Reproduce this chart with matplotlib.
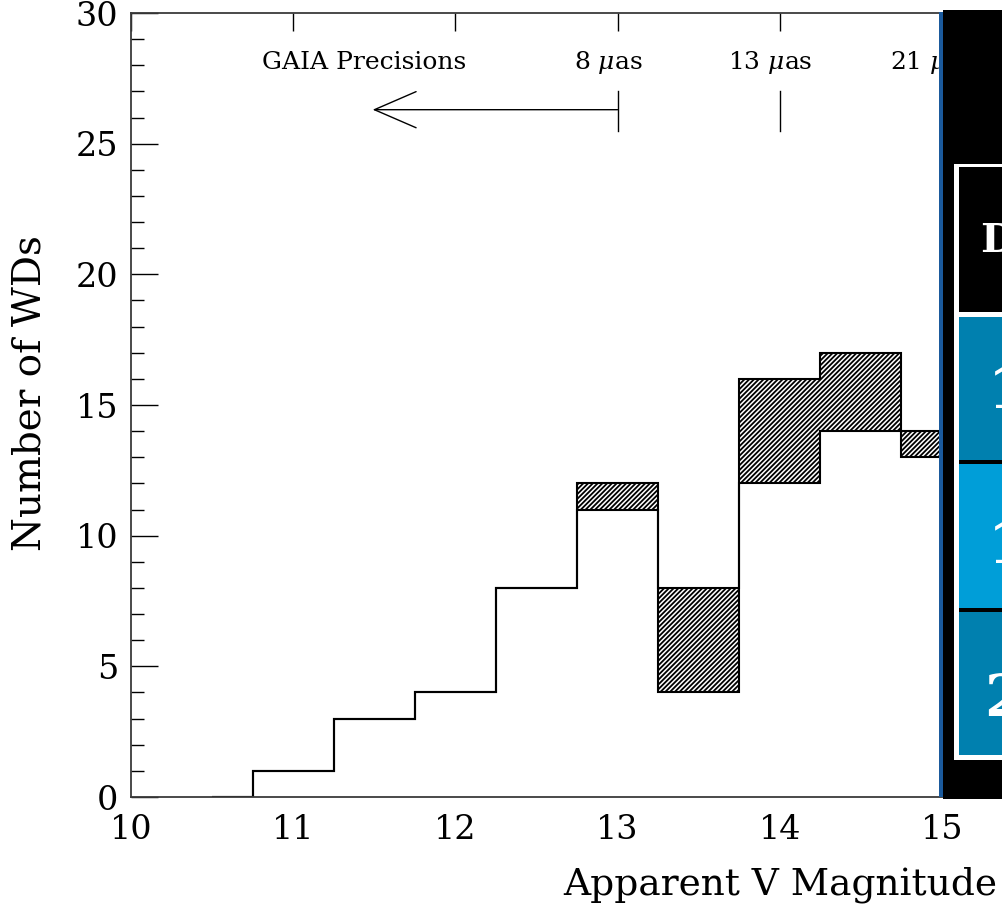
import numpy as np
import matplotlib
matplotlib.use('Agg')
import matplotlib.pyplot as plt
from matplotlib.patches import Rectangle
from matplotlib.ticker import MultipleLocator

# histogram of WDs per magnitude bin (bin centres, 0.5 mag wide)
mag_centres = [10.5, 11.0, 11.5, 12.0, 12.5, 13.0, 13.5, 14.0, 14.5, 15.0]
n_lower = [0, 1, 3, 4, 8, 11, 4, 12, 14, 13]
n_upper = [0, 1, 3, 4, 8, 12, 8, 16, 17, 14]

xtick_vals = [10, 11, 12, 13, 14, 15]

precision_labels = ['8 $\\mu$as', '13 $\\mu$as', '21 $\\mu$as']
precision_mags = [13.0, 14.0, 15.0]

table_texts = ['D', '1', '1', '2']

plt.rcParams['font.family'] = ['DejaVu Serif']
plt.rcParams['mathtext.fontset'] = 'dejavuserif'
plt.rcParams['hatch.linewidth'] = 1.3

W, H = 1002, 905
fig = plt.figure(figsize=(W / 100, H / 100), dpi=100)


def fx(px):
    return px / W


def fy(py):
    return 1 - py / H


ax = fig.add_axes([fx(131), fy(797), 8 * 162.2 / W, (797 - 13) / H])

# IDL psym=10 style edges: first bin starts at its centre
centres = np.array(mag_centres)
edges = np.concatenate([[centres[0]], centres + 0.25])

lo = np.array(n_lower, dtype=float)
hi = np.array(n_upper, dtype=float)
ax.fill_between(edges, np.append(lo, lo[-1]), np.append(hi, hi[-1]), step='post',
                facecolor='white', edgecolor='black', hatch='///////', linewidth=0)
ax.stairs(lo, edges, baseline=None, color='black', lw=1.5)
ax.stairs(hi, edges, baseline=None, color='black', lw=1.5)

ax.set_xlim(10, 18)
ax.set_ylim(0, 30)
ax.set_xticks(xtick_vals)
ax.yaxis.set_major_locator(MultipleLocator(5))
ax.yaxis.set_minor_locator(MultipleLocator(1))
ax.tick_params(axis='x', which='both', bottom=False, top=True, labelbottom=True,
               direction='in', length=13, width=1, labelsize=24, pad=12)
ax.tick_params(axis='y', which='major', left=True, right=False, direction='in',
               length=19.5, width=1, labelsize=24, pad=9)
ax.tick_params(axis='y', which='minor', left=True, right=False, direction='in',
               length=9.5, width=1)
for s in ax.spines.values():
    s.set_color('#3a3a3a')
    s.set_linewidth(1.3)

ax.set_xlabel('Apparent V Magnitude', fontsize=27, labelpad=15)
fig.text(fx(30), fy(393), 'Number of WDs', rotation=90, fontsize=28,
         ha='center', va='center')

# GAIA precision annotations
ax.text(11.44, 28.1, 'GAIA Precisions', fontsize=18, ha='center', va='center')
for lab, m in zip(precision_labels, precision_mags):
    ax.text(m - 0.06, 28.1, lab, fontsize=18, ha='center', va='center')
    ax.plot([m, m], [25.5, 27.0], color='black', lw=1)
ax.annotate('', xy=(11.49, 26.3), xytext=(13.0, 26.3),
            arrowprops=dict(arrowstyle='->,head_length=3,head_width=1.3',
                            color='black', lw=1, mutation_scale=10,
                            shrinkA=0, shrinkB=0))


# overlay panel on the right
def rect(x0, y0, x1, y1, color):
    fig.add_artist(Rectangle((fx(x0), fy(y1)), fx(x1) - fx(x0), fy(y0) - fy(y1),
                             transform=fig.transFigure, facecolor=color,
                             edgecolor='none', zorder=5))


rect(939, 12, 943, 797, '#1b5a9c')
rect(943, 10, 1010, 799, 'black')
rect(954, 164, 1010, 760, 'white')
rect(959, 167, 1010, 312, 'black')
rect(959, 317, 1010, 755, 'black')
rect(959, 317, 1010, 460, '#0080af')
rect(959, 464, 1010, 608, '#009ed8')
rect(959, 612, 1010, 755, '#0080af')

fig.text(fx(980), fy(241), table_texts[0], color='white', fontsize=29,
         fontweight='bold', ha='left', va='center', zorder=6)
for t, (x0, yc) in zip(table_texts[1:], [(988, 392), (988, 547), (984, 700)]):
    fig.text(fx(x0), fy(yc), t, color='white', fontsize=42, fontweight='bold',
             ha='left', va='center', zorder=6)

fig.savefig('out.png', dpi=100)
